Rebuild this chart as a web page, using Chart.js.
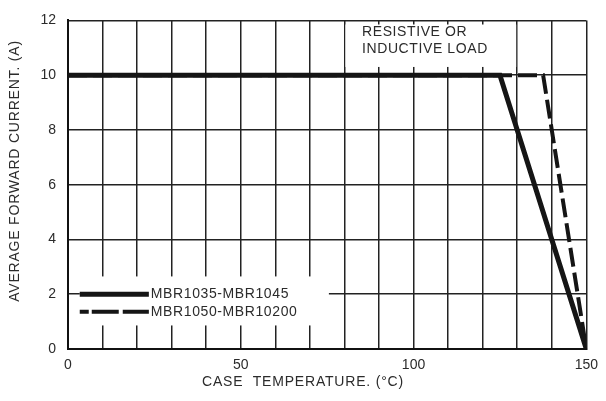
<!DOCTYPE html>
<html>
<head>
<meta charset="utf-8">
<script src="https://cdn.jsdelivr.net/npm/chart.js@4/dist/chart.umd.min.js"></script>
<style>
  html, body { margin: 0; padding: 0; background: #fff; }
  #wrap { width: 606px; height: 401px; }
</style>
</head>
<body>
<div id="wrap"><canvas id="myChart" width="606" height="401"></canvas></div>
<script>
// derating curves
const seriesNames = ['MBR1035-MBR1045', 'MBR1050-MBR10200'];
const tempSolid = [0, 125, 150];
const currentSolid = [10, 10, 0];
const tempDashed = [0, 137.5, 150];
const currentDashed = [10, 10, 0];
const xTickLabels = [0, 50, 100, 150];
const noteLines = ['RESISTIVE OR', 'INDUCTIVE LOAD'];
const xTitle = 'CASE  TEMPERATURE. (\u00B0C)';
const yTitle = 'AVERAGE FORWARD CURRENT. (A)';

const ink = '#151515';
const textColor = '#2b2b2b';
const font = '"Liberation Sans", Arial, sans-serif';

function toPoints(xs, ys) {
  return xs.map((x, i) => ({ x: x, y: ys[i] }));
}

// white patches under the note and the legend, then the texts
const overlayPlugin = {
  id: 'overlay',
  beforeDatasetsDraw(chart) {
    const ctx = chart.ctx;
    const x = chart.scales.x;
    const y = chart.scales.y;
    ctx.save();
    ctx.fillStyle = '#fff';
    // note box between the 80 and 130 grid lines
    ctx.fillRect(x.getPixelForValue(80) + 1, y.getPixelForValue(11.85),
      x.getPixelForValue(130) - x.getPixelForValue(80) - 2,
      y.getPixelForValue(10.3) - y.getPixelForValue(11.85));
    // legend box
    ctx.fillRect(x.getPixelForValue(3.4), y.getPixelForValue(2.65),
      x.getPixelForValue(75.5) - x.getPixelForValue(3.4),
      y.getPixelForValue(0.86) - y.getPixelForValue(2.65));
    ctx.restore();
  },
  afterDraw(chart) {
    const ctx = chart.ctx;
    const x = chart.scales.x;
    const y = chart.scales.y;
    const area = chart.chartArea;
    ctx.save();
    ctx.fillStyle = textColor;
    ctx.font = '14px ' + font;
    ctx.letterSpacing = '0.6px';
    ctx.textBaseline = 'middle';
    ctx.textAlign = 'left';
    // note
    ctx.fillText(noteLines[0], 362, 32);
    ctx.fillText(noteLines[1], 362, 49);

    // legend samples
    const ds = chart.data.datasets;
    const lx0 = x.getPixelForValue(3.4);
    const lx1 = x.getPixelForValue(23.4);
    const rows = [2.0, 1.36];
    rows.forEach((v, i) => {
      const py = y.getPixelForValue(v);
      ctx.beginPath();
      ctx.strokeStyle = ds[i].borderColor;
      ctx.lineWidth = ds[i].borderWidth;
      ctx.setLineDash(i === 0 ? [] : [9, 3, 27, 4, 28]);
      ctx.moveTo(lx0, py);
      ctx.lineTo(lx1, py);
      ctx.stroke();
      ctx.setLineDash([]);
      ctx.fillText(ds[i].label, lx1 + 2, py);
    });

    // axis titles
    ctx.letterSpacing = '0.8px';
    ctx.textAlign = 'center';
    ctx.fillText(xTitle, 303, 382);
    ctx.translate(15, 171);
    ctx.rotate(-Math.PI / 2);
    ctx.fillText(yTitle, 0, 0);
    ctx.restore();
  }
};

function plotChart() {
  const ctx = document.getElementById('myChart').getContext('2d');
  return new Chart(ctx, {
    type: 'line',
    data: {
      datasets: [{
        label: seriesNames[0],
        data: toPoints(tempSolid, currentSolid),
        borderColor: ink,
        borderWidth: 5,
        pointRadius: 0,
        tension: 0
      }, {
        label: seriesNames[1],
        data: toPoints(tempDashed, currentDashed),
        borderColor: ink,
        borderWidth: 4,
        borderDash: [19, 6],
        pointRadius: 0,
        tension: 0
      }]
    },
    options: {
      responsive: false,
      animation: false,
      layout: { padding: { top: 14, right: 14, left: 0, bottom: 0 } },
      plugins: {
        legend: { display: false },
        tooltip: { enabled: false }
      },
      scales: {
        x: {
          type: 'linear',
          min: 0,
          max: 150,
          afterFit: (s) => { s.height = 52; },
          grid: { color: '#222', lineWidth: 1.5, drawTicks: false },
          border: { color: '#111', width: 2 },
          ticks: {
            stepSize: 10,
            padding: 8,
            color: textColor,
            font: { family: font, size: 14 },
            maxRotation: 0,
            autoSkip: false,
            callback: (v) => xTickLabels.includes(v) ? String(v) : ''
          }
        },
        y: {
          min: 0,
          max: 12,
          afterFit: (s) => { s.width = 68; },
          grid: { color: '#222', lineWidth: 1.5, drawTicks: false },
          border: { color: '#111', width: 2 },
          ticks: {
            stepSize: 2,
            padding: 12,
            color: textColor,
            font: { family: font, size: 14 }
          }
        }
      }
    },
    plugins: [overlayPlugin]
  });
}

document.addEventListener('DOMContentLoaded', () => plotChart());
</script>
</body>
</html>
